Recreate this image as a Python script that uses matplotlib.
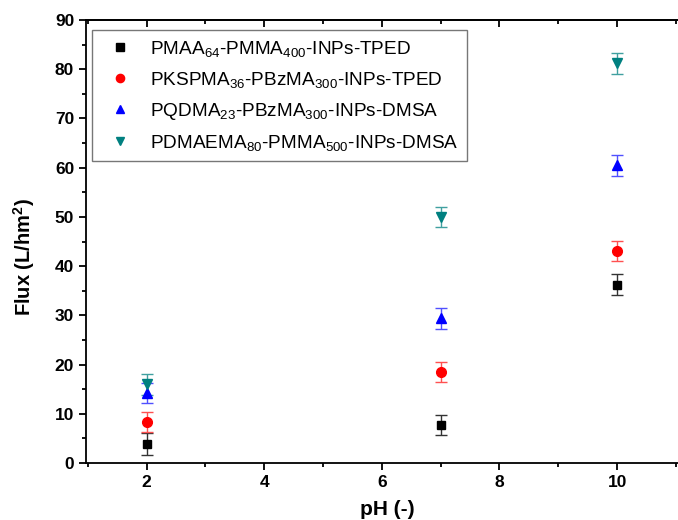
import matplotlib
matplotlib.use("Agg")
import matplotlib.pyplot as plt
from matplotlib.ticker import MultipleLocator
from matplotlib.lines import Line2D

plt.rcParams['font.family'] = ['Liberation Sans', 'DejaVu Sans']
plt.rcParams['mathtext.default'] = 'regular'

ph = [2, 7, 10]
series_labels = [
    "PMAA$_{64}$-PMMA$_{400}$-INPs-TPED",
    "PKSPMA$_{36}$-PBzMA$_{300}$-INPs-TPED",
    "PQDMA$_{23}$-PBzMA$_{300}$-INPs-DMSA",
    "PDMAEMA$_{80}$-PMMA$_{500}$-INPs-DMSA",
]
flux_pmaa = [3.9, 7.7, 36.2]
flux_pkspma = [8.3, 18.5, 43.1]
flux_pqdma = [14.2, 29.4, 60.5]
flux_pdmaema = [16.0, 50.0, 81.2]
err_pmaa = [2.2, 2.1, 2.1]
err_pkspma = [2.1, 2.1, 2.1]
err_pqdma = [2.1, 2.1, 2.1]
err_pdmaema = [2.1, 2.1, 2.1]

W, H = 678, 520
fig = plt.figure(figsize=(W / 100, H / 100), dpi=100)
left, right, top, bottom = 86, 690, 20, 463
ax = fig.add_axes([left / W, 1 - bottom / H, (right - left) / W, (bottom - top) / H])

styles = [
    ("s", "black", "#333333", 6),
    ("o", "red", "#ff5050", 7),
    ("^", "blue", "#5050ff", 7.5),
    ("v", "#008080", "#40a0a0", 7.5),
]
data = [(flux_pmaa, err_pmaa), (flux_pkspma, err_pkspma),
        (flux_pqdma, err_pqdma), (flux_pdmaema, err_pdmaema)]

handles = []
for (vals, errs), (mk, col, ecol, ms), lab in zip(data, styles, series_labels):
    ax.errorbar(ph, vals, yerr=errs, fmt=mk, color=col, ecolor=ecol,
                markersize=ms, capsize=4, elinewidth=1, capthick=1,
                linestyle='none')
    handles.append(Line2D([], [], marker=mk, color=col, linestyle='none',
                          markersize=ms * 0.85, label=lab))

ax.set_xlim(0.97, 11.24)
ax.set_ylim(0, 90)
ax.xaxis.set_major_locator(MultipleLocator(2))
ax.xaxis.set_minor_locator(MultipleLocator(1))
ax.yaxis.set_major_locator(MultipleLocator(10))
ax.yaxis.set_minor_locator(MultipleLocator(5))

ax.spines['right'].set_visible(False)
for s in ['left', 'bottom', 'top']:
    ax.spines[s].set_linewidth(1.3)

ax.tick_params(axis='both', which='major', length=5, width=1.3, labelsize=12.5)
ax.tick_params(axis='both', which='minor', length=3, width=1.3)
ax.tick_params(axis='x', which='both', top=False, direction='out')
for lbl in ax.get_xticklabels() + ax.get_yticklabels():
    lbl.set_fontweight('bold')

# top ticks inward
ax2 = ax.secondary_xaxis('top')
ax2.set_xticks([2, 4, 6, 8, 10])
ax2.xaxis.set_minor_locator(MultipleLocator(1))
ax2.tick_params(which='major', direction='in', length=5, width=1.3, labelsize=0)
ax2.tick_params(which='minor', direction='in', length=3, width=1.3)
ax2.set_xticklabels([])
ax2.spines['top'].set_linewidth(1.3)

ax.set_xlabel("pH (-)", fontsize=15, fontweight='bold')
ax.xaxis.set_label_coords((387 - left) / (right - left), -(500 - bottom) / (bottom - top))
ax.set_ylabel("Flux (L/hm$^2$)", fontsize=14.5, fontweight='bold')
ax.yaxis.set_label_coords((37 - left) / (right - left), 1 - (257 - top) / (bottom - top))

leg = ax.legend(handles=handles, loc='upper left',
                bbox_to_anchor=((92 - left) / (right - left), 1 - 10 / (bottom - top)),
                fontsize=13.7, frameon=True, fancybox=False, edgecolor='#555555',
                handletextpad=0.6, labelspacing=0.58, borderpad=0.45, handlelength=2.0,
                borderaxespad=0)
leg.get_frame().set_linewidth(1.0)

fig.savefig("out.png", dpi=100)
